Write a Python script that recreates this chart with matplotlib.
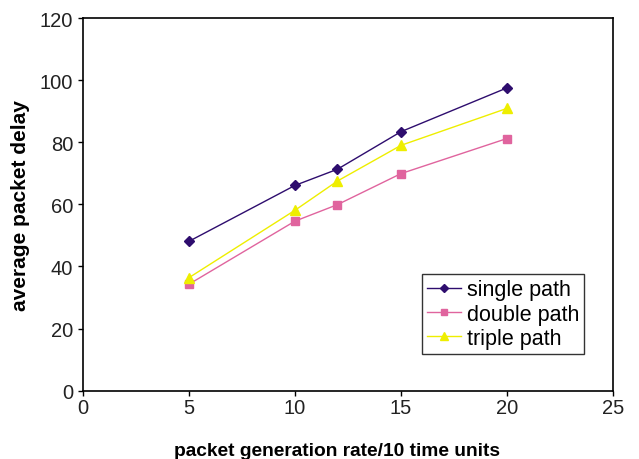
import matplotlib
matplotlib.use("Agg")
import matplotlib.pyplot as plt

plt.rcParams['font.family'] = ['Liberation Sans', 'DejaVu Sans']

x = [5, 10, 12, 15, 20]
single = [48.1, 66.1, 71.3, 83.4, 97.5]
double = [34.3, 54.6, 59.9, 69.9, 81.2]
triple = [36.4, 58.1, 67.5, 79.0, 90.9]
labels = ['single path', 'double path', 'triple path']

fig = plt.figure(figsize=(6.39, 4.60), dpi=100)
ax = fig.add_axes([83/639, 68.3/460, (613-83)/639, (391.7-19)/460])

ax.plot(x, single, color='#2E0D6E', marker='D', markersize=5, lw=1.0, label=labels[0])
ax.plot(x, double, color='#E0649E', marker='s', markersize=5.5, lw=1.0, label=labels[1])
ax.plot(x, triple, color='#EEEE00', marker='^', markersize=7, lw=1.0, label=labels[2])

ax.set_xlim(0, 25)
ax.set_ylim(0, 120)
ax.set_xticks([0, 5, 10, 15, 20, 25])
ax.set_yticks([0, 20, 40, 60, 80, 100, 120])
ax.tick_params(labelsize=14.5, direction='out', length=3.6, width=1.0, colors='black', labelcolor='#222222')
ax.tick_params(axis='x', pad=1.5)
ax.tick_params(axis='y', pad=3.5)
for s in ax.spines.values():
    s.set_linewidth(1.2)
    s.set_color('black')

ax.set_xlabel('packet generation rate/10 time units', fontsize=13.8, fontweight='bold', labelpad=18)
ax.xaxis.label.set_x((337 - 83) / 530)
ax.set_ylabel('average packet delay', fontsize=15, fontweight='bold', labelpad=7)

leg = ax.legend(loc='upper left', bbox_to_anchor=(421.5/639, 1-275/460), bbox_transform=fig.transFigure,
                fontsize=15.5, frameon=True, fancybox=False, edgecolor='black', handlelength=1.6,
                handletextpad=0.25, borderpad=0.25, labelspacing=0.15, borderaxespad=0,
                markerscale=0.8)
leg.get_frame().set_linewidth(1.0)

fig.savefig('out.png', dpi=100)
